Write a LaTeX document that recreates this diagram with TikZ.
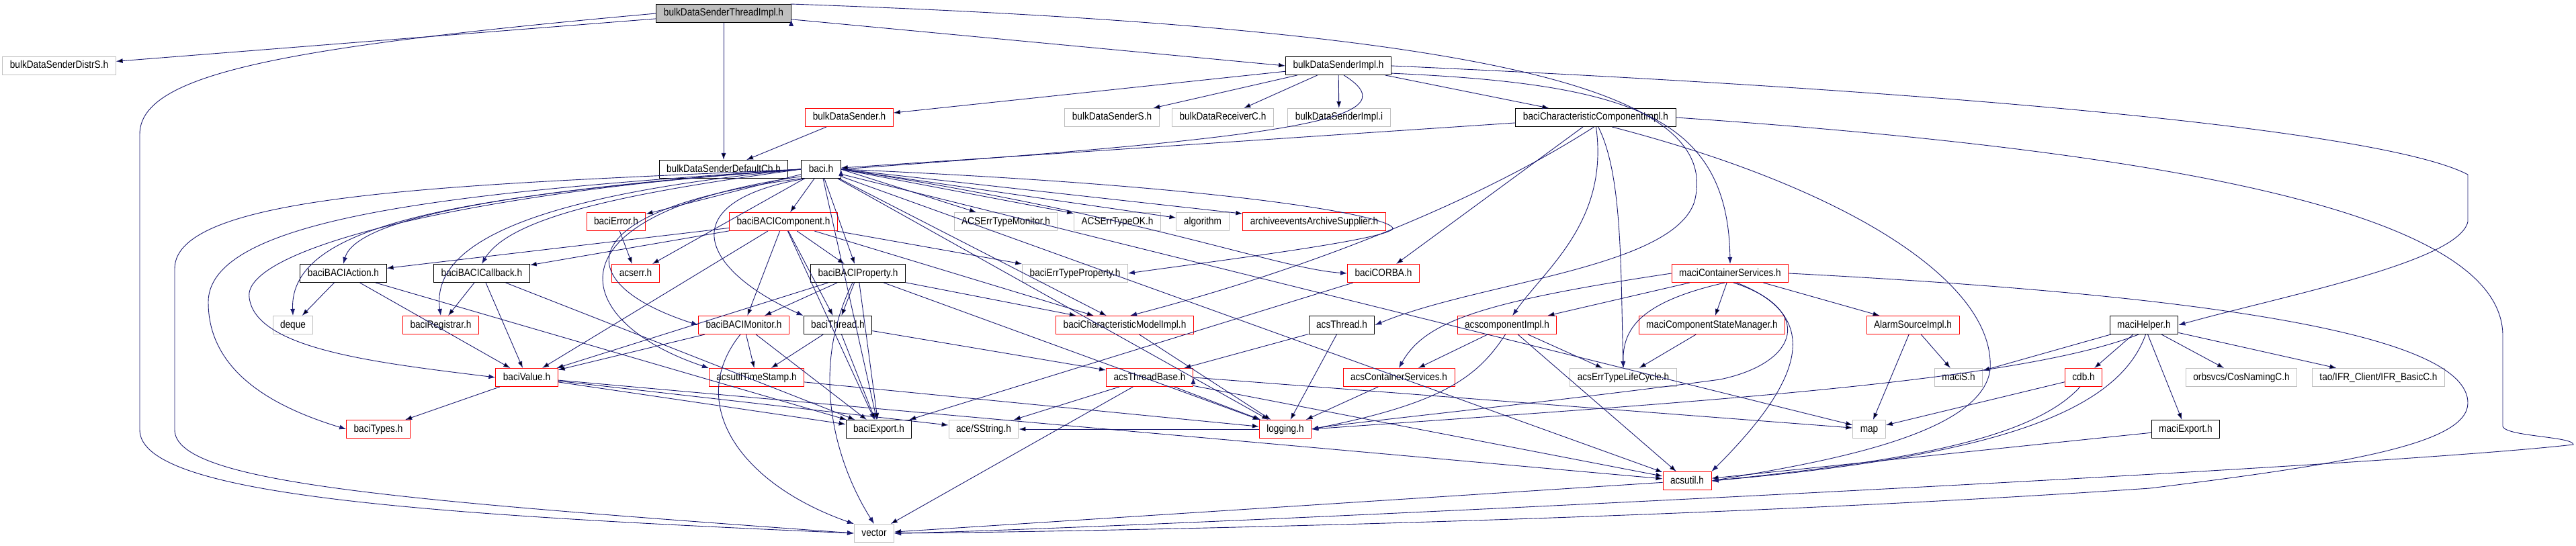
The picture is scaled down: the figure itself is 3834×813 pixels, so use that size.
\documentclass[tikz,border=0pt]{standalone}
\usepackage{fontspec}
\setmainfont{Liberation Sans}[FakeStretch=0.88]
\usetikzlibrary{arrows.meta}
\definecolor{edgeblue}{HTML}{191970}
\definecolor{extgrey}{HTML}{BFBFBF}
\tikzset{
  file/.style={draw=black, fill=white, line width=1pt, minimum height=27pt,
    inner xsep=11pt, inner ysep=0pt, text height=11.5pt, text depth=3.5pt,
    font=\fontsize{15.5}{18}\selectfont},
  redfile/.style={file, draw=red},
  extfile/.style={file, draw=extgrey},
  topfile/.style={file, fill=extgrey},
  inc/.style={draw=edgeblue, line width=0.9pt, -{Latex[length=10pt,width=7pt]}}
}

\begin{document}
\begin{tikzpicture}[x=1pt,y=-1pt]
		\useasboundingbox (0,0) rectangle (3834,813);

		%% rows of files, top to bottom
		\node[topfile] at (1077,20)(T){bulkDataSenderThreadImpl.h};

		\node[extfile] at (88,98)(distrS){bulkDataSenderDistrS.h};
		\node[file] at (1992,98)(senderImpl){bulkDataSenderImpl.h};

		\node[redfile] at (1264,175)(sender){bulkDataSender.h};
		\node[extfile] at (1655,175)(senderS){bulkDataSenderS.h};
		\node[extfile] at (1820,175)(receiverC){bulkDataReceiverC.h};
		\node[extfile] at (1993,175)(implI){bulkDataSenderImpl.i};
		\node[file] at (2375,175)(cci){baciCharacteristicComponentImpl.h};

		\node[file] at (1077,252)(defaultCb){bulkDataSenderDefaultCb.h};
		\node[file] at (1222,252)(baci){baci.h};

		\node[redfile] at (917,330)(error){baciError.h};
		\node[redfile] at (1166,330)(component){baciBACIComponent.h};
		\node[extfile] at (1497,330)(errMonitor){ACSErrTypeMonitor.h};
		\node[extfile] at (1663,330)(errOK){ACSErrTypeOK.h};
		\node[extfile] at (1790,330)(algorithm){algorithm};
		\node[redfile] at (1956,330)(archive){archiveeventsArchiveSupplier.h};

		\node[file] at (511,407)(action){baciBACIAction.h};
		\node[file] at (717,407)(callback){baciBACICallback.h};
		\node[redfile] at (946,407)(acserr){acserr.h};
		\node[file] at (1277,407)(property){baciBACIProperty.h};
		\node[extfile] at (1600,407)(errProp){baciErrTypeProperty.h};
		\node[redfile] at (2059,407)(corba){baciCORBA.h};
		\node[redfile] at (2575,407)(mcs){maciContainerServices.h};

		\node[extfile] at (436,484)(deque){deque};
		\node[redfile] at (656,484)(registrar){baciRegistrar.h};
		\node[redfile] at (1107,484)(monitor){baciBACIMonitor.h};
		\node[file] at (1247,484)(thread){baciThread.h};
		\node[redfile] at (1674,484)(charModel){baciCharacteristicModelImpl.h};
		\node[file] at (1997,484)(acsThread){acsThread.h};
		\node[redfile] at (2243,484)(compImpl){acscomponentImpl.h};
		\node[redfile] at (2548,484)(stateMgr){maciComponentStateManager.h};
		\node[redfile] at (2847,484)(alarm){AlarmSourceImpl.h};
		\node[file] at (3191,484)(maciHelper){maciHelper.h};

		\node[redfile] at (784,562)(value){baciValue.h};
		\node[redfile] at (1126,562)(timeStamp){acsutilTimeStamp.h};
		\node[redfile] at (1711,562)(threadBase){acsThreadBase.h};
		\node[redfile] at (2082,562)(acsCS){acsContainerServices.h};
		\node[extfile] at (2416,562)(lifeCycle){acsErrTypeLifeCycle.h};
		\node[extfile] at (2915,562)(maciS){maciS.h};
		\node[redfile] at (3101,562)(cdb){cdb.h};
		\node[extfile] at (3336,562)(cosNaming){orbsvcs/CosNamingC.h};
		\node[extfile] at (3540,562)(ifr){tao/IFR\_Client/IFR\_BasicC.h};

		\node[redfile] at (563,639)(types){baciTypes.h};
		\node[file] at (1308,639)(export){baciExport.h};
		\node[extfile] at (1464,639)(sstring){ace/SString.h};
		\node[redfile] at (1913,639)(logging){logging.h};
		\node[extfile] at (2782,639)(map){map};
		\node[file] at (3253,639)(maciExport){maciExport.h};

		\node[redfile] at (2511,716)(acsutil){acsutil.h};

		\node[extfile] at (1301,794)(vector){vector};

		%% top file
		\path[inc] (T)edge(distrS)(T)edge(defaultCb)(T.-5)edge(senderImpl.west);
		\draw[inc] (T.west) .. controls (420,70) and (208,110) .. (208,200)
			-- (208,640) .. controls (208,735) and (600,765) .. (vector.west);
		\draw[inc] (T.8) .. controls (2300,45) and (2560,150) .. (2522,300)
			.. controls (2490,400) and (2200,420) .. (acsThread.east);

		%% sender implementation
		\path[inc] (senderImpl)edge(sender)(senderImpl)edge(senderS)
			(senderImpl)edge(receiverC)(senderImpl)edge(implI)(senderImpl)edge(cci)
			(sender)edge(defaultCb);
		\draw[inc] (senderImpl.-60) .. controls (2110,180) and (1900,205) .. (baci.east);
		\draw[inc] (senderImpl.east) .. controls (3000,140) and (3560,200) .. (3673,260)
			-- (3673,330) .. controls (3660,390) and (3400,440) .. (maciHelper.east);
		\draw[inc] (senderImpl.-8) .. controls (2420,125) and (2572,170) .. (mcs.north);

		%% characteristic component
		\path[inc] (cci)edge(baci)(cci)edge(corba);
		\draw[inc] (cci.-100) .. controls (2200,300) and (1950,400) .. (charModel.60);
		\draw[inc] (cci.-88) .. controls (2395,330) and (2300,400) .. (compImpl.60);
		\draw[inc] (cci.-75) .. controls (2415,260) and (2412,400) .. (lifeCycle.north);
		\draw[inc] (cci.-30) .. controls (2750,280) and (2970,420) .. (2962,550)
			.. controls (2950,650) and (2700,690) .. (acsutil.east);
		\draw[inc] (cci.east) .. controls (3300,230) and (3725,330) .. (3725,500)
			-- (3725,635) .. controls (3730,650) and (3830,650) .. (3830,662)
			.. controls (3500,700) and (1600,790) .. (vector.east);

		%% container services
		\path[inc] (mcs)edge(compImpl)(mcs)edge(stateMgr)(mcs)edge(alarm);
		\draw[inc] (mcs.west) .. controls (2200,450) and (2120,480) .. (acsCS.north);
		\draw[inc] (mcs.-120) .. controls (2440,450) and (2415,490) .. (lifeCycle.north);
		\draw[inc] (mcs.-70) .. controls (2700,460) and (2680,540) .. (2560,565)
			.. controls (2300,600) and (2000,630) .. (logging.east);
		\draw[inc] (mcs.-55) .. controls (2710,470) and (2690,560) .. (acsutil.north east);
		\draw[inc] (mcs.east) .. controls (3300,440) and (3673,500) .. (3673,600)
			.. controls (3673,660) and (3500,690) .. (3200,727)
			.. controls (2500,775) and (1600,792) .. (vector.east);

		\path[inc] (compImpl)edge(acsCS)(compImpl)edge(acsutil)(compImpl)edge(lifeCycle)
			(stateMgr)edge(lifeCycle)(acsCS)edge(logging)
			(acsThread)edge(threadBase)(acsThread)edge(logging)
			(alarm)edge(map)(alarm)edge(maciS);
		\draw[inc] (compImpl.-100) .. controls (2200,560) and (2150,600) .. (logging.east);

		%% maci helper
		\path[inc] (maciHelper)edge(maciS)(maciHelper)edge(cdb)(maciHelper)edge(cosNaming)
			(maciHelper)edge(ifr)(maciHelper)edge(maciExport)
			(cdb)edge(map)(maciExport)edge(acsutil);
		\draw[inc] (maciHelper.-120) .. controls (3000,570) and (2500,600) .. (logging.east);
		\draw[inc] (maciHelper.-80) .. controls (3150,620) and (2950,680) .. (acsutil.east);
		\draw[inc] (cdb.-110) .. controls (3020,660) and (2800,690) .. (acsutil.east);

		%% thread base
		\path[inc] (threadBase)edge(sstring)(threadBase)edge(logging)(threadBase)edge(vector)
			(threadBase)edge(acsutil)(threadBase.east)edge(map)
			(logging)edge(sstring)(acsutil)edge(vector);

		%% baci.h
		\path[inc] (baci)edge(error)(baci)edge(acserr)(baci)edge(component)(baci)edge(property)
			(baci.east)edge(errMonitor)(baci.east)edge(errOK)(baci.east)edge(algorithm)
			(baci.east)edge(archive)(baci)edge(export)(baci)edge(logging)(baci)edge(map)
			(baci)edge(acsutil)(baci)edge(charModel);
		\draw[inc] (baci.west) .. controls (700,275) and (260,285) .. (260,400)
			-- (260,640) .. controls (260,720) and (600,745) .. (vector.west);
		\draw[inc] (baci.west) .. controls (800,280) and (531,320) .. (action.north);
		\draw[inc] (baci.west) .. controls (700,285) and (310,320) .. (310,450)
			.. controls (310,560) and (420,610) .. (types.west);
		\draw[inc] (baci.west) .. controls (700,290) and (430,330) .. (deque.north);
		\draw[inc] (baci.west) .. controls (700,285) and (360,370) .. (371,443)
			.. controls (380,520) and (560,540) .. (value.west);
		\draw[inc] (baci.west) .. controls (800,290) and (640,360) .. (registrar.north);
		\draw[inc] (baci.west) .. controls (950,285) and (760,320) .. (callback.north);
		\draw[inc] (baci.-150) .. controls (1000,300) and (1040,400) .. (thread.north west);
		\draw[inc] (baci.-155) .. controls (850,310) and (840,420) .. (monitor.west);
		\draw[inc] (baci.-160) .. controls (800,320) and (850,480) .. (timeStamp.north west);
		\draw[inc] (baci.east) .. controls (1900,280) and (2100,330) .. (2070,343)
			.. controls (2040,360) and (1800,390) .. (errProp.east);
		\draw[inc] (baci.east) .. controls (1700,320) and (1900,400) .. (corba.west);

		\path[inc] (error)edge(acserr);

		%% baci components
		\path[inc] (component)edge(action)(component)edge(callback)(component)edge(property)
			(component)edge(thread)(component)edge(value)(component)edge(monitor)
			(component)edge(errProp)(component)edge(charModel)(component)edge(export);
		\path[inc] (property)edge(monitor)(property)edge(thread)(property)edge(value)
			(property)edge(export)(property)edge(charModel)(property)edge(logging);
		\draw[inc] (property.-120) .. controls (1200,560) and (1250,700) .. (vector.north);
		\path[inc] (action)edge(deque)(action)edge(value)(action)edge(export)
			(callback)edge(registrar)(callback)edge(value)(callback)edge(export)
			(monitor)edge(value)(monitor)edge(timeStamp)(monitor)edge(export)
			(thread)edge(timeStamp)(thread)edge(export)(thread)edge(threadBase)
			(value)edge(types)(value)edge(export)(value)edge(sstring)(value)edge(acsutil)
			(timeStamp)edge(logging)(corba)edge(export)(charModel)edge(logging);
		\draw[inc] (monitor.-110) .. controls (1020,600) and (1100,720) .. (vector.north west);
		\end{tikzpicture}
\end{document}
